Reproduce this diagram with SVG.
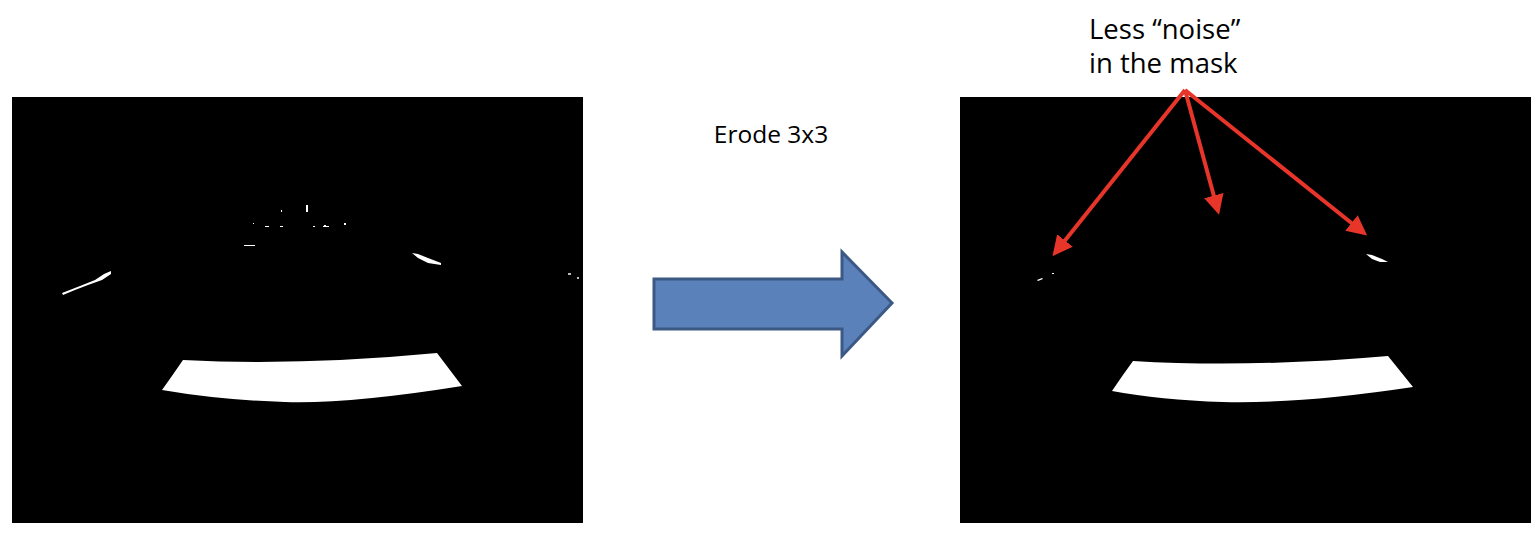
<svg xmlns="http://www.w3.org/2000/svg" width="1540" height="544" viewBox="0 0 1540 544">
<defs>
<style>
.img{fill:#000}
.w{fill:#fff}
.g{fill:#bbb}
.lbl{font-family:"Open Sans","Liberation Sans",sans-serif;fill:#000}
.red{stroke:#e8352a;stroke-width:4;fill:none}
</style>
<marker id="ah" markerWidth="5" markerHeight="5" refX="4" refY="2.5" orient="auto" markerUnits="strokeWidth">
<path d="M0,0 L5,2.5 L0,5 Z" fill="#e8352a"/>
</marker>
</defs>
<rect width="1540" height="544" fill="#fff"/>

<g id="mask-before">
<rect class="img" x="12" y="97" width="571" height="426"/>
<path class="w" d="M183,360 Q300,366 437,353 L462,386 Q350,404 285,402 Q220,400 162,390 Q172,376 183,360 Z"/>
<path class="w" d="M62,293 L80,286 L95,280 L104,274 L111,271 L111,274 L102,280 L88,285 L75,290 L63,295 Z"/>
<path class="w" d="M412,253 L418,254 L428,258 L441,263 L441,265 L428,263 L418,258 Z"/>
<rect class="g" x="568" y="273" width="3" height="2"/>
<rect class="g" x="577" y="277" width="2" height="2"/>
<rect class="w" x="306" y="205" width="2" height="7"/>
<rect class="w" x="281" y="210" width="1" height="2"/>
<rect class="w" x="253" y="223" width="1" height="1"/>
<rect class="w" x="265" y="226" width="4" height="1"/>
<rect class="w" x="280" y="226" width="3" height="1"/>
<rect class="w" x="313" y="226" width="2" height="1"/>
<rect class="w" x="323" y="226" width="6" height="1"/>
<rect class="w" x="324" y="225" width="2" height="1"/>
<rect class="w" x="344" y="223" width="2" height="2"/>
<rect class="w" x="244" y="245" width="11" height="1"/>
</g>

<g id="erode-step">
<text class="lbl" x="771" y="143" font-size="24.5" text-anchor="middle">Erode 3x3</text>
<path d="M654,279 L842,279 L842,252 L892,303 L842,356 L842,329 L654,329 Z" fill="#5a81b9" stroke="#3c5985" stroke-width="3" stroke-linejoin="miter"/>
</g>

<g id="mask-after">
<rect class="img" x="960" y="97" width="571" height="426"/>
<path class="w" d="M1133,361 Q1250,368 1388,356 L1413,387 Q1300,404 1223,402 Q1160,400 1112,391 Q1122,376 1133,361 Z"/>
<path class="w" d="M1037,280 L1042,278 L1043,279 L1038,281 Z"/>
<rect class="w" x="1052" y="273" width="2" height="1"/>
<path class="w" d="M1366,254 L1372,255 L1382,259 L1388,262 L1380,262 L1372,259 Z"/>
</g>

<g id="note">
<text class="lbl" x="1089" y="39" font-size="27.5">Less “noise”</text>
<text class="lbl" x="1089" y="73" font-size="27.5">in the mask</text>
</g>

<g id="connectors">
<line class="red" x1="1185" y1="90" x2="1055" y2="253" marker-end="url(#ah)"/>
<line class="red" x1="1185" y1="90" x2="1218" y2="211" marker-end="url(#ah)"/>
<line class="red" x1="1185" y1="90" x2="1364" y2="233" marker-end="url(#ah)"/>
</g>
</svg>
